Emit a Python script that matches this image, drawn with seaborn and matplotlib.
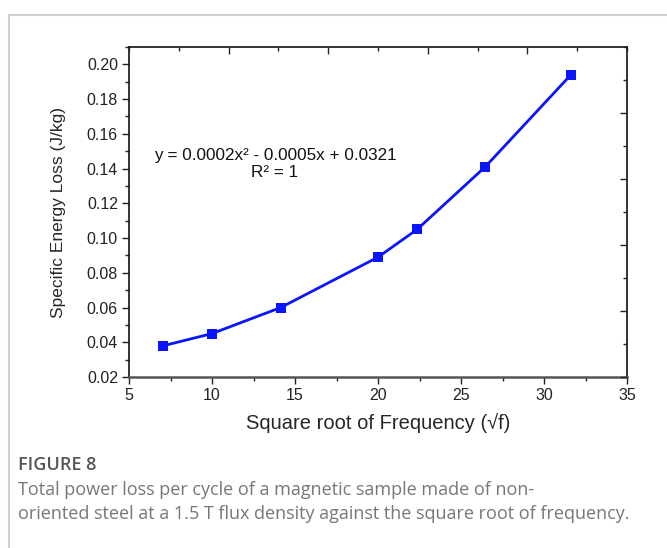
import numpy as np
import pandas as pd
import matplotlib
matplotlib.use("Agg")
import matplotlib.pyplot as plt
from matplotlib.ticker import MultipleLocator
import seaborn as sns

# Square root of frequency and specific energy loss per cycle
sqrt_freq = [7.07, 10.0, 14.14, 20.0, 22.36, 26.46, 31.62]
energy_loss = [0.038, 0.045, 0.060, 0.089, 0.105, 0.141, 0.194]

x_ticks = [5, 10, 15, 20, 25, 30, 35]
y_ticks = [0.02, 0.04, 0.06, 0.08, 0.10, 0.12, 0.14, 0.16, 0.18, 0.20]

fit_text = "y = 0.0002x\u00b2 - 0.0005x + 0.0321\nR\u00b2 = 1"
caption_title = "FIGURE 8"
caption_body = ("Total power loss per cycle of a magnetic sample made of non-\n"
                "oriented steel at a 1.5 T flux density against the square root of frequency.")

df = pd.DataFrame({"x": sqrt_freq, "y": energy_loss})

sns.set_style("ticks")
plt.rcParams["font.family"] = ["Liberation Sans", "DejaVu Sans"]

W, H = 667, 548
fig = plt.figure(figsize=(W / 100, H / 100), dpi=100)

# panel frame lines
fig.add_artist(plt.Line2D([9 / W, 1.0], [1 - 15 / H, 1 - 15 / H], color="#cfcfcf", lw=1.5))
fig.add_artist(plt.Line2D([9 / W, 9 / W], [0, 1 - 15 / H], color="#cfcfcf", lw=1.5))

left, right, top, bottom = 129, 627, 47, 377
ax = fig.add_axes([left / W, 1 - bottom / H, (right - left) / W, (bottom - top) / H])

sns.lineplot(data=df, x="x", y="y", ax=ax, color="#0a14ff", lw=2,
             marker="s", markersize=7, markeredgewidth=0, markerfacecolor="#0a14ff")

ax.set_xlim(5, 35)
ax.set_ylim(0.02, 0.21)
ax.set_xticks(x_ticks)
ax.set_yticks(y_ticks)
ax.set_xticklabels([str(v) for v in x_ticks])
ax.set_yticklabels([f"{v:.2f}" for v in y_ticks])
ax.xaxis.set_minor_locator(MultipleLocator(2.5))
ax.yaxis.set_minor_locator(MultipleLocator(0.01))
ax.tick_params(which="major", direction="out", length=5, width=1, labelsize=11.5, colors="#222222")
ax.tick_params(which="minor", direction="out", length=3, width=1, colors="#222222")
ax.tick_params(axis="x", pad=3)
ax.tick_params(axis="y", pad=3)

ax.set_xlabel("Square root of Frequency (\u221af)", fontsize=14.5, labelpad=7)
ax.set_ylabel("Specific Energy Loss (J/kg)", fontsize=12.5, labelpad=15)

for s in ["top", "right", "left"]:
    ax.spines[s].set_color("#111111")
    ax.spines[s].set_linewidth(1.2)
ax.spines["bottom"].set_color("#555555")
ax.spines["bottom"].set_linewidth(1.8)

# top and right axes with their own inward tick divisions
axt = ax.twiny()
axt.set_xlim(0, 1)
axt.set_xticks([0.2, 0.4, 0.6, 0.8])
axt.xaxis.set_minor_locator(MultipleLocator(0.1))
axt.tick_params(which="major", direction="in", length=5, width=1, labeltop=False, colors="#222222")
axt.tick_params(which="minor", direction="in", length=3, width=1, colors="#222222")
axr = ax.twinx()
axr.set_ylim(0, 1)
axr.set_yticks([0.0, 0.2, 0.4, 0.6, 0.8])
axr.yaxis.set_minor_locator(MultipleLocator(0.1))
axr.tick_params(which="major", direction="in", length=5, width=1, labelright=False, colors="#222222")
axr.tick_params(which="minor", direction="in", length=3, width=1, colors="#222222")
for a in (axt, axr):
    for s in a.spines.values():
        s.set_visible(False)

ax.text(0.293, 0.645, fit_text, transform=ax.transAxes, ha="center", va="center",
        fontsize=12.3, linespacing=1.15, color="#111111")

fig.text(18 / W, 1 - 465 / H, caption_title, fontsize=13, color="#555555", weight="semibold",
         family=["Open Sans", "DejaVu Sans"], va="center")
fig.text(18 / W, 1 - 502 / H, caption_body, fontsize=13, color="#777777",
         family=["Open Sans", "DejaVu Sans"], va="center", linespacing=1.42)

fig.savefig("out.png", dpi=100)
